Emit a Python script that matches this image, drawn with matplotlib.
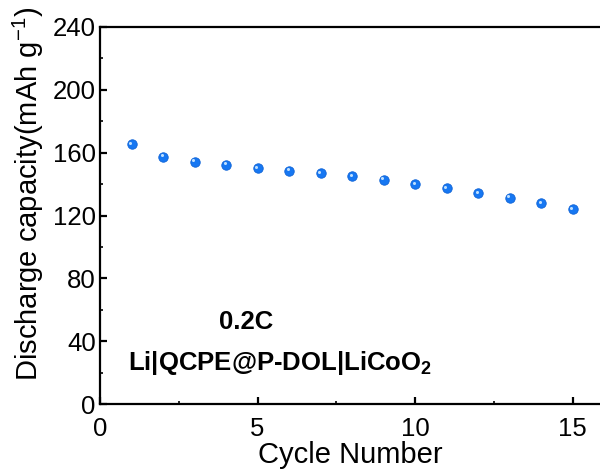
import matplotlib
matplotlib.use("Agg")
import matplotlib.pyplot as plt
from matplotlib.ticker import MultipleLocator
import matplotlib.transforms as mtrans

plt.rcParams['font.family'] = ['Liberation Sans', 'DejaVu Sans']
plt.rcParams['mathtext.fontset'] = 'custom'
plt.rcParams['mathtext.rm'] = 'Liberation Sans'
plt.rcParams['mathtext.bf'] = 'Liberation Sans:bold'

cycles = [1, 2, 3, 4, 5, 6, 7, 8, 9, 10, 11, 12, 13, 14, 15]
capacity = [165.5, 157.4, 154.2, 152.3, 150.2, 148.5, 146.8, 145.1, 142.8,
            140.0, 137.3, 134.3, 131.3, 127.7, 123.9]

W, H = 600, 472
fig = plt.figure(figsize=(6, 4.72), dpi=100)
ax = fig.add_axes([100/W, 1 - 404/H, 512/W, (404 - 27)/H])

ax.plot(cycles, capacity, linestyle='none', marker='o', markersize=6.8,
        markerfacecolor='#1677f2', markeredgecolor='#0f63d6', markeredgewidth=0.6,
        zorder=3)
ax.plot(cycles, capacity, linestyle='none', marker='o', markersize=2.2,
        markerfacecolor='#bfe0ff', markeredgecolor='none', zorder=4,
        transform=ax.transData + mtrans.ScaledTranslation(-1.5/100, 1.5/100, fig.dpi_scale_trans))

ax.set_xlim(0, 16.25)
ax.set_ylim(0, 240)
ax.xaxis.set_major_locator(MultipleLocator(5))
ax.xaxis.set_minor_locator(MultipleLocator(2.5))
ax.yaxis.set_major_locator(MultipleLocator(40))
ax.yaxis.set_minor_locator(MultipleLocator(20))

for s in ax.spines.values():
    s.set_linewidth(1.6)
ax.tick_params(which='major', direction='in', length=5, width=1.6, labelsize=18.5)
ax.tick_params(which='minor', direction='in', length=2.5, width=1.2)
ax.tick_params(axis='x', which='major', pad=9)
ax.tick_params(axis='y', which='major', pad=3)

ax.set_xlabel('Cycle Number', fontsize=21, va='center')
ax.xaxis.set_label_coords(0.5 + (350 - 356) / 512, (404 - 455) / 377)
ax.set_ylabel('Discharge capacity(mAh g$^{\\mathrm{-1}}$)', fontsize=21, va='center')
ax.yaxis.set_label_coords((28 - 100) / 512, (404 - 194) / 377)

fig.text(246/W, 1 - 322/H, '0.2C', fontsize=18.5, fontweight='bold',
         ha='center', va='center')
fig.text(128/W, 1 - 363/H, 'Li|QCPE@P-DOL|LiCoO$_\\mathbf{2}$', fontsize=18.5,
         fontweight='bold', ha='left', va='center')

fig.savefig('out.png', dpi=100)
